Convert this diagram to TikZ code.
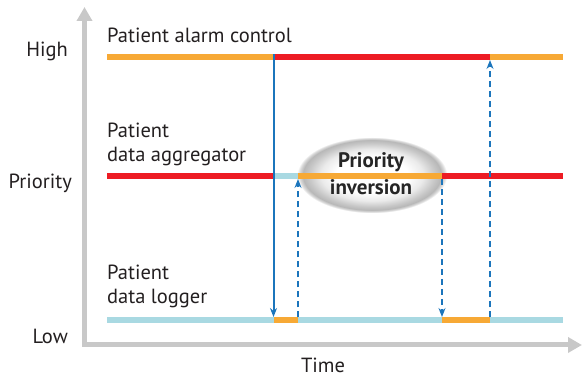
\documentclass[tikz,border=0pt]{standalone}
\usepackage{fontspec}
\setmainfont{PT Sans}
\usetikzlibrary{arrows.meta,shapes.geometric}
\definecolor{borange}{HTML}{F7A935}
\definecolor{bred}{HTML}{ED1C24}
\definecolor{bblue}{HTML}{A9D9E2}
\definecolor{arrblue}{HTML}{1B75BC}
\definecolor{axgray}{HTML}{C8C8C8}
\definecolor{txt}{HTML}{231F20}
\pgfdeclareradialshading{bubbleshade}{\pgfpoint{0bp}{0bp}}{%
  color(0bp)=(white); color(12bp)=(white); color(17bp)=(black!8);
  color(21bp)=(black!22); color(23bp)=(black!28); color(24.2bp)=(black!14); color(25bp)=(white); color(50bp)=(white)}
\begin{document}
\begin{tikzpicture}[x=1pt,y=-1pt,
  lbl/.style={font=\fontsize{20.5}{24}\selectfont, text=txt, inner sep=0pt, align=left},
  bar/.style={line width=5.5pt},
  axis/.style={line width=5pt, draw=axgray, line join=miter},
  evt/.style={draw=arrblue, line width=2pt, -{Stealth[length=9pt,width=7pt]}},
  evtd/.style={draw=arrblue, line width=1.4pt, dash pattern=on 6pt off 4pt, -{Stealth[length=9pt,width=7pt]}}]
\useasboundingbox (0,0) rectangle (582,379);
% axes
\coordinate (ytop) at (84.5,7);
\coordinate (orig) at (84.5,345);
\coordinate (xend) at (582,345);
\draw[axis, {Triangle[length=14pt,width=15pt]}-{Triangle[length=14pt,width=15pt]}] (ytop) -- (orig) -- (xend);
% time coordinates
\foreach \lvl/\yy in {H/57, M/176, L/320}{
  \foreach \t/\xx in {0/107, 1/274, 2/298, 3/442, 4/490, 5/563}{
    \coordinate (\lvl\t) at (\xx,\yy);
  }
}
% shaded bubble
\node (bubble) [rectangle, minimum width=150pt, minimum height=76pt, shading=bubbleshade, draw=none] at (372,175) {};
% high line
\draw[bar, borange] (H0) -- (H1);
\draw[bar, bred] (H1) -- (H4);
\draw[bar, borange] (H4) -- (H5);
% middle line
\draw[bar, bred] (M0) -- (M1);
\draw[bar, bblue] (M1) -- (M2);
\draw[bar, borange] (M2) -- (M3);
\draw[bar, bred] (M3) -- (M5);
% low line
\draw[bar, bblue] (L0) -- (L1);
\draw[bar, borange] (L1) -- (L2);
\draw[bar, bblue] (L2) -- (L3);
\draw[bar, borange] (L3) -- (L4);
\draw[bar, bblue] (L4) -- (L5);
% bubble text
\node (inv) [lbl, font=\fontsize{21}{27}\bfseries\selectfont, text=black!85, align=center, anchor=base] at (371,195) {Priority\\inversion};
% event arrows
\coordinate (a1s) at (273.5,54.5);
\coordinate (a1e) at (273.5,317);
\draw[evt] (a1s) -- (a1e);
\coordinate (a2s) at (298,317.5);
\coordinate (a2e) at (298,179);
\draw[evtd] (a2s) -- (a2e);
\coordinate (a3s) at (442,179);
\coordinate (a3e) at (442,317);
\draw[evtd] (a3s) -- (a3e);
\coordinate (a4s) at (490,317.5);
\coordinate (a4e) at (490,60);
\draw[evtd] (a4s) -- (a4e);
% labels
\node (lhigh) [lbl, anchor=base east] at (68,57) {High};
\node (lprio) [lbl, anchor=base east] at (72,189) {Priority};
\node (llow) [lbl, anchor=base east] at (68,344) {Low};
\node (ltime) [lbl, anchor=base, text depth=0pt] at (323,373) {Time};
\node (palarm) [lbl, anchor=base west] at (107,43) {Patient alarm control};
\node (pagg) [lbl, anchor=base west] at (107,162) {Patient\\data aggregator};
\node (plog) [lbl, anchor=base west] at (107,304) {Patient\\data logger};
\end{tikzpicture}
\end{document}
